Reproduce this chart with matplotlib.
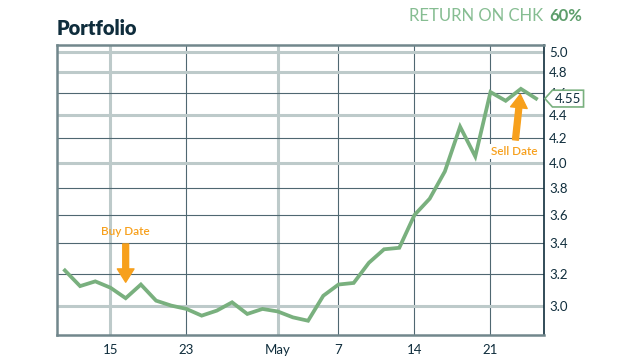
import matplotlib
matplotlib.use("Agg")
import matplotlib.pyplot as plt
from matplotlib.path import Path
from matplotlib.ticker import FixedLocator, NullLocator, FormatStrFormatter

# ------------------------------------------------------------------
# data (trading days, 2019)
# ------------------------------------------------------------------
dates = ["04-10", "04-11", "04-12", "04-15", "04-16", "04-17", "04-18",
         "04-22", "04-23", "04-24", "04-25", "04-26", "04-29", "04-30",
         "05-01", "05-02", "05-03", "05-06", "05-07", "05-08", "05-09",
         "05-10", "05-13", "05-14", "05-15", "05-16", "05-17", "05-20",
         "05-21", "05-22", "05-23", "05-24"]
prices = [3.22, 3.12, 3.15, 3.11, 3.045, 3.13, 3.03,
          3.00, 2.98, 2.94, 2.97, 3.02, 2.95, 2.98,
          2.965, 2.93, 2.91, 3.06, 3.13, 3.14, 3.27,
          3.36, 3.37, 3.60, 3.72, 3.93, 4.30, 4.05,
          4.61, 4.53, 4.64, 4.55]

tick_dates = ["04-15", "04-23", "05-01", "05-07", "05-14", "05-21"]
tick_labels = ["15", "23", "May", "7", "14", "21"]
light_vdates = ["04-15", "05-01"]

y_ticks = [3.0, 3.2, 3.4, 3.6, 3.8, 4.0, 4.2, 4.4, 4.6, 4.8, 5.0]
light_hlines = [3.0, 4.0, 4.4, 4.8, 5.0]

buy_date = "04-16"
sell_date = "05-23"
return_pct = "60%"

# ------------------------------------------------------------------
# style
# ------------------------------------------------------------------
GREEN = "#79b07e"
ORANGE = "#f7a01c"
NAVY = "#0f2d3c"
FRAME = "#71878c"
LIGHT_GRID = "#bdcaca"
DARK_GRID = "#4f6771"

plt.rcParams['font.family'] = ['Lato', 'DejaVu Sans']

x = list(range(len(dates)))

fig = plt.figure(figsize=(6.4, 3.6), dpi=100)
ax = fig.add_axes([0.0895, 0.0686, 0.7600, 0.8064])

# grid lines
for d in tick_dates:
    if d in light_vdates:
        ax.axvline(dates.index(d), color=LIGHT_GRID, lw=2.2, zorder=1)
    else:
        ax.axvline(dates.index(d), color=DARK_GRID, lw=0.8, zorder=1)
for v in y_ticks:
    if v in light_hlines:
        ax.axhline(v, color=LIGHT_GRID, lw=2.2, zorder=1)
    else:
        ax.axhline(v, color=DARK_GRID, lw=0.8, zorder=1)

# price line
ax.plot(x, prices, color=GREEN, lw=2.7, solid_joinstyle='miter', zorder=3)

# axes / scales
ax.set_yscale('log')
ax.set_ylim(2.826, 5.068)
ax.set_xlim(-0.5, len(dates) - 0.5)
ax.yaxis.set_major_locator(FixedLocator(y_ticks))
ax.yaxis.set_minor_locator(NullLocator())
ax.yaxis.set_major_formatter(FormatStrFormatter('%.1f'))
ax.yaxis.tick_right()
ax.set_xticks([dates.index(d) for d in tick_dates])
ax.set_xticklabels(tick_labels)
ax.tick_params(axis='both', length=0, colors=NAVY, labelsize=9.5)
ax.tick_params(axis='y', pad=4)
ax.tick_params(axis='x', pad=6)

for side in ['top', 'left', 'bottom']:
    ax.spines[side].set_color(FRAME)
    ax.spines[side].set_linewidth(1.8)
ax.spines['right'].set_color(NAVY)
ax.spines['right'].set_linewidth(1.2)


# last-value tag on the right axis
def tag_box(x0, y0, width, height, mutation_size):
    pad = 0.18 * mutation_size
    x0, y0 = x0 - pad, y0 - pad
    x1, y1 = x0 + width + 2 * pad, y0 + height + 2 * pad
    tip = 0.45 * (y1 - y0)
    ym = (y0 + y1) / 2
    return Path([(x0 - tip, ym), (x0, y1), (x1, y1), (x1, y0), (x0, y0),
                 (x0 - tip, ym)], closed=True)


ax.annotate(f"{prices[-1]:.2f}", xy=(1.0, prices[-1]),
            xycoords=ax.get_yaxis_transform(),
            xytext=(8, 0), textcoords='offset points',
            ha='left', va='center', fontsize=9.5, color=NAVY,
            bbox=dict(boxstyle=tag_box, fc='white', ec=GREEN, lw=1.2),
            annotation_clip=False, zorder=5)

# buy / sell annotations
arrow_style = "simple,head_length=0.8,head_width=1.0,tail_width=0.35"
bi = dates.index(buy_date)
ax.annotate("Buy Date", xy=(bi, prices[bi]), xytext=(0, 48),
            textcoords='offset points', ha='center', va='center',
            fontsize=8.5, fontweight='semibold', color=ORANGE,
            arrowprops=dict(arrowstyle=arrow_style, color=ORANGE,
                            shrinkA=3, shrinkB=11.5, mutation_scale=12),
            zorder=4)

si = dates.index(sell_date)
ax.annotate("Sell Date", xy=(si, prices[si]), xytext=(-4.8, -45),
            textcoords='offset points', ha='center', va='center',
            fontsize=8.5, fontweight='semibold', color=ORANGE,
            arrowprops=dict(arrowstyle=arrow_style, color=ORANGE,
                            shrinkA=3, shrinkB=4, mutation_scale=12),
            bbox=dict(boxstyle='square,pad=0.15', fc='white', ec='none'),
            zorder=4)

# titles
fig.text(57 / 640, 1 - 35 / 360, "Portfolio", fontsize=14.5, fontweight='heavy',
         color=NAVY, ha='left', va='baseline')
fig.text(543 / 640, 1 - 20.7 / 360, "RETURN ON CHK", fontsize=12,
         fontweight='normal', color="#86bd92", ha='right', va='baseline')
fig.text(549 / 640, 1 - 20.7 / 360, return_pct, fontsize=12,
         fontweight='bold', color="#5e9e6c", ha='left', va='baseline')

fig.savefig("out.png", dpi=100)
